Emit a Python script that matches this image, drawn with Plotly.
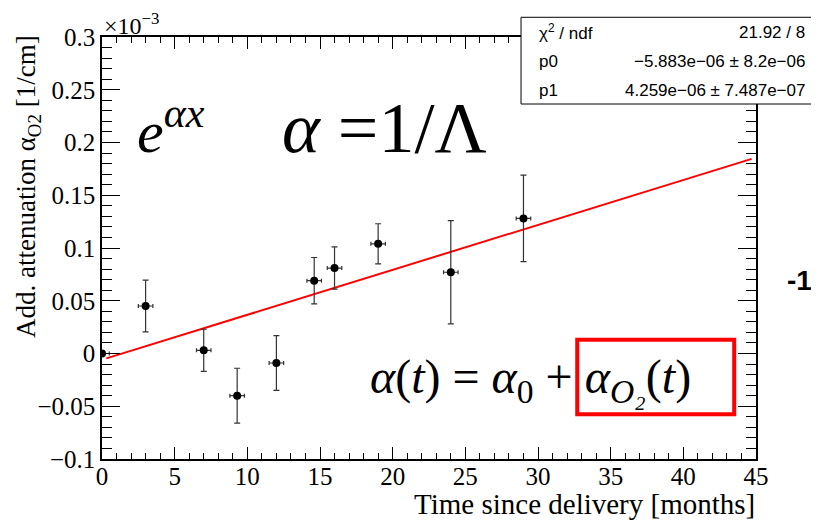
import plotly.graph_objects as go

# data (units of 1e-3 1/cm)
months = [0, 3, 7, 9.3, 12, 14.6, 16, 19, 24, 29]
alpha_o2 = [0.0, 0.045, 0.003, -0.040, -0.009, 0.069, 0.081, 0.104, 0.077, 0.128]
alpha_err = [0.0, 0.0245, 0.020, 0.026, 0.026, 0.022, 0.020, 0.019, 0.049, 0.041]
month_err = [0.5, 0.5, 0.5, 0.5, 0.5, 0.5, 0.5, 0.5, 0.5, 0.5]

# fit parameters (1/cm), displayed in units of 1e-3
p0 = -5.883e-06
p1 = 4.259e-06
fit_x = [0.3, 44.7]
fit_y = [(p0 + p1 * t) * 1e3 for t in fit_x]

ytick_vals = [-0.1, -0.05, 0, 0.05, 0.1, 0.15, 0.2, 0.25, 0.3]
ytick_text = ["\u22120.1", "\u22120.05", "0", "0.05", "0.1", "0.15", "0.2", "0.25", "0.3"]
xtick_vals = [0, 5, 10, 15, 20, 25, 30, 35, 40, 45]

serif = "Liberation Serif, Times New Roman, serif"
sans = "Liberation Sans, Arial, sans-serif"

fig = go.Figure()
fig.add_trace(go.Scatter(
    x=fit_x, y=fit_y, mode="lines",
    line=dict(color="#ff0000", width=2), showlegend=False, hoverinfo="skip"))
fig.add_trace(go.Scatter(
    x=months, y=alpha_o2, mode="markers",
    marker=dict(color="black", size=8),
    error_y=dict(type="data", array=alpha_err, color="#333333", thickness=1.2, width=3),
    error_x=dict(type="data", array=month_err, color="#333333", thickness=1.2, width=2),
    showlegend=False))

axis_common = dict(
    showline=True, linecolor="black", linewidth=1.5, mirror="allticks",
    ticks="inside", tickcolor="black", showgrid=False, zeroline=False,
    tickfont=dict(family=serif, size=25, color="black"),
)
fig.update_xaxes(
    range=[0, 45], tickvals=xtick_vals, ticklen=12, tickwidth=1.2, ticklabelstandoff=-6,
    minor=dict(dtick=1, tick0=0, ticklen=6, ticks="inside", tickcolor="black", tickwidth=1),
    **axis_common)
fig.update_yaxes(
    range=[-0.1, 0.3], tickvals=ytick_vals, ticktext=ytick_text, ticklen=18, tickwidth=1.2,
    minor=dict(dtick=0.01, tick0=0, ticklen=10, ticks="inside", tickcolor="black", tickwidth=1),
    **axis_common)

ann = []
ann.append(dict(xref="paper", yref="paper", x=1.002, y=-0.106, xanchor="right", yanchor="middle",
                text="Time since delivery [months]", showarrow=False,
                font=dict(family=serif, size=29, color="black")))
ann.append(dict(xref="paper", yref="paper", x=-0.112, y=1.01, xanchor="center", yanchor="top",
                textangle=-90, text="Add. attenuation \u03b1<sub>O2</sub> [1/cm]", showarrow=False,
                font=dict(family=serif, size=27, color="black")))
ann.append(dict(xref="paper", yref="paper", x=0.0, y=0.99, xanchor="left", yanchor="bottom",
                text="\u00d710<sup>\u22123</sup>", showarrow=False,
                font=dict(family=serif, size=24, color="black")))
ann.append(dict(xref="paper", yref="paper", x=0.050, y=0.785, xanchor="left", yanchor="middle",
                text="<i>e<sup>\u03b1x</sup></i>", showarrow=False,
                font=dict(family=serif, size=60, color="black")))
ann.append(dict(xref="paper", yref="paper", x=0.272, y=0.785, xanchor="left", yanchor="middle",
                text="<i>\u03b1</i> =1/\u039b", showarrow=False,
                font=dict(family=serif, size=72, color="black")))
ann.append(dict(xref="paper", yref="paper", x=0.406, y=0.187, xanchor="left", yanchor="middle",
                text="<i>\u03b1</i>(<i>t</i>) = <i>\u03b1</i><sub>0</sub> + <i>\u03b1<sub>O\u2082</sub></i>(<i>t</i>)",
                showarrow=False, font=dict(family=serif, size=48, color="black")))
ann.append(dict(xref="paper", yref="paper", x=1.044, y=0.424, xanchor="left", yanchor="middle",
                text="<b>-1</b>", showarrow=False,
                font=dict(family=sans, size=28, color="black")))

# stats box text
rows = [("\u03c7<sup>2</sup> / ndf", "21.92 / 8"),
        ("p0", "\u22125.883e\u221206 \u00b1 8.2e\u221206"),
        ("p1", "4.259e\u221206 \u00b1 7.487e\u221207")]
row_y = [1.0118, 0.9431, 0.8744]
for (lt, rt), yy in zip(rows, row_y):
    ann.append(dict(xref="paper", yref="paper", x=0.665, y=yy, xanchor="left", yanchor="middle",
                    text=lt, showarrow=False, font=dict(family=sans, size=17, color="black")))
    ann.append(dict(xref="paper", yref="paper", x=1.078, y=yy, xanchor="right", yanchor="middle",
                    text=rt, showarrow=False, font=dict(family=sans, size=17, color="black")))

shapes = [
    dict(type="rect", xref="paper", yref="paper", x0=0.6407, x1=1.0933, y0=0.8412, y1=1.0467,
         line=dict(color="black", width=1), fillcolor="white", layer="above"),
    dict(type="rect", xref="x", yref="y", x0=32.7, x1=43.5, y0=-0.0575, y1=0.0130,
         line=dict(color="#ff0000", width=4), fillcolor="rgba(0,0,0,0)", layer="above"),
]

# the page adds an 8px body margin on the left/top, so the figure is 8px smaller
fig.update_layout(
    width=811, height=512,
    margin=dict(l=94, r=63, t=29, b=61),
    paper_bgcolor="white", plot_bgcolor="white",
    annotations=ann, shapes=shapes,
)
fig.write_html("out.html")
